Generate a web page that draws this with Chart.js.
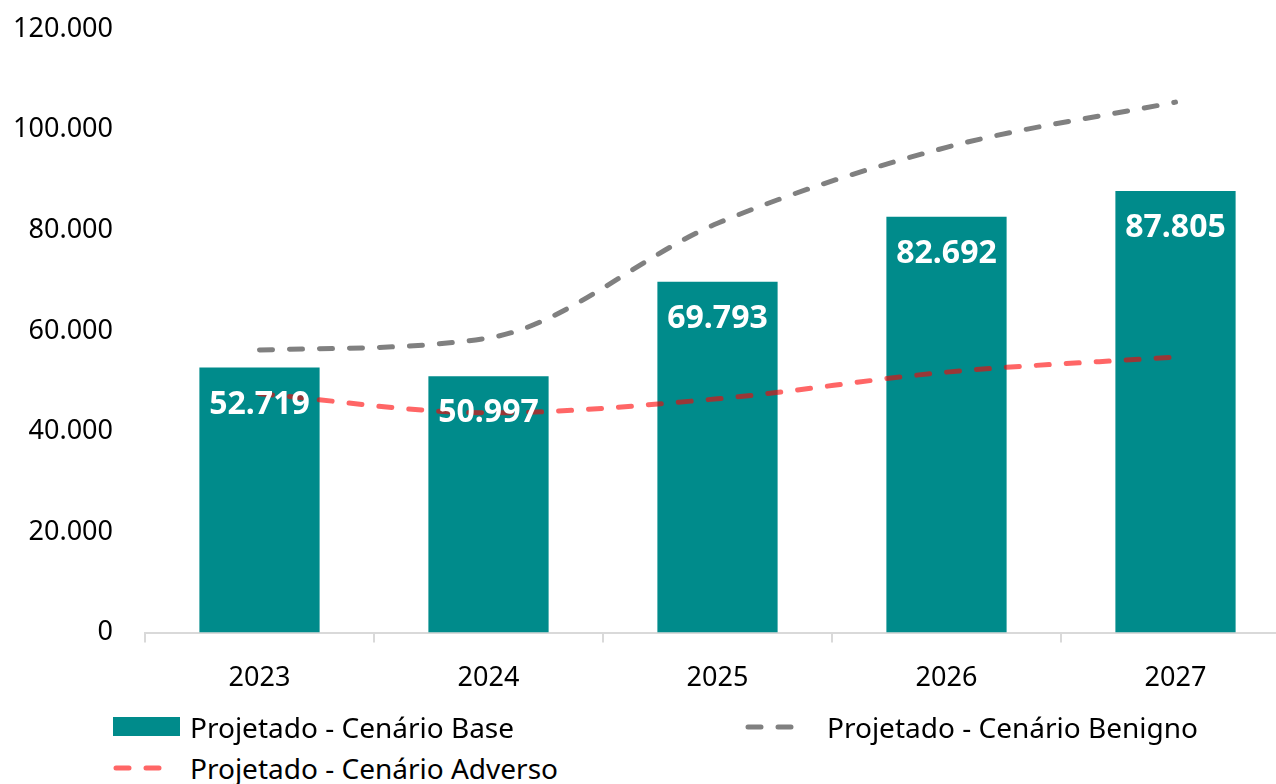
<!DOCTYPE html>
<html>
<head>
<meta charset="utf-8">
<script src="https://cdn.jsdelivr.net/npm/chart.js@4.4.0/dist/chart.umd.min.js"></script>
<style>
  html, body { margin: 0; padding: 0; background: #fff; overflow: hidden; }
  body { width: 1276px; height: 784px; position: relative; font-family: "Noto Sans", "Open Sans", sans-serif; }
  #wrap { position: absolute; left: 0; top: -19px; width: 1290px; height: 734px; }
  .leg { position: absolute; font-size: 28px; color: #000; white-space: nowrap; line-height: 30px; }
  .leg svg { position: absolute; }
</style>
</head>
<body>
<div id="wrap"><canvas id="chart"></canvas></div>
<div class="leg" style="left:113px; top:712px;">
  <svg width="68" height="30" style="left:0;top:0"><rect x="0" y="5" width="67" height="19" fill="#008B8B"/></svg>
  <span style="margin-left:77px">Projetado - Cenário Base</span>
</div>
<div class="leg" style="left:745px; top:712px;">
  <svg width="60" height="30" style="left:0;top:0"><line x1="3" y1="15" x2="50" y2="15" stroke="#808080" stroke-width="5" stroke-linecap="round" stroke-dasharray="13 17"/></svg>
  <span style="margin-left:82px">Projetado - Cenário Benigno</span>
</div>
<div class="leg" style="left:113px; top:753px;">
  <svg width="60" height="30" style="left:0;top:0"><line x1="3" y1="15" x2="50" y2="15" stroke="rgba(255,0,0,0.6)" stroke-width="5" stroke-linecap="round" stroke-dasharray="13 17"/></svg>
  <span style="margin-left:77px">Projetado - Cenário Adverso</span>
</div>
<script>
const categories = ["2023", "2024", "2025", "2026", "2027"];
const baseValues = [52719, 50997, 69793, 82692, 87805];
const benignoValues = [56200, 58600, 81400, 96500, 105500];
const adversoValues = [47500, 43700, 46500, 51800, 54800];
const yTicks = [0, 20000, 40000, 60000, 80000, 100000, 120000];

const fmt = v => v.toLocaleString("de-DE");
const FONT = "'Noto Sans', 'Open Sans', sans-serif";

// valores em branco dentro das barras
const barLabels = {
  id: "barLabels",
  afterDatasetsDraw(chart) {
    const ctx = chart.ctx;
    const meta = chart.getDatasetMeta(0);
    ctx.save();
    ctx.fillStyle = "#fff";
    ctx.font = "bold 32px " + FONT;
    ctx.textAlign = "center";
    ctx.textBaseline = "middle";
    meta.data.forEach((bar, i) => {
      ctx.fillText(fmt(baseValues[i]), bar.x, bar.y + 37);
    });
    ctx.restore();
  }
};

const data = {
  labels: categories,
  datasets: [
    {
      type: "bar",
      label: "Projetado - Cenário Base",
      data: baseValues,
      backgroundColor: "#008B8B",
      barPercentage: 0.525,
      categoryPercentage: 1,
      order: 3
    },
    {
      type: "line",
      label: "Projetado - Cenário Adverso",
      data: adversoValues,
      borderColor: "rgba(255,0,0,0.6)",
      borderWidth: 5,
      borderDash: [13, 17],
      borderCapStyle: "round",
      pointRadius: 0,
      cubicInterpolationMode: "monotone",
      order: 1
    },
    {
      type: "line",
      label: "Projetado - Cenário Benigno",
      data: benignoValues,
      borderColor: "#808080",
      borderWidth: 5,
      borderDash: [13, 17],
      borderCapStyle: "round",
      pointRadius: 0,
      cubicInterpolationMode: "monotone",
      order: 2
    }
  ]
};

const config = {
  type: "bar",
  data: data,
  plugins: [barLabels],
  options: {
    responsive: false,
    animation: false,
    layout: { padding: 0 },
    plugins: { legend: { display: false }, tooltip: { enabled: false } },
    scales: {
      x: {
        offset: true,
        grid: { display: true, offset: true, drawOnChartArea: false, color: "#d9d9d9", tickLength: 10, lineWidth: 2 },
        border: { display: true, color: "#d9d9d9", width: 2 },
        ticks: { color: "#000", font: { size: 27, family: FONT }, padding: 20 }
      },
      y: {
        min: 0,
        max: 120000,
        afterBuildTicks: s => { s.ticks = yTicks.map(v => ({ value: v })); },
        afterFit: s => { s.width = 145; },
        grid: { display: false, drawTicks: false },
        border: { display: false },
        ticks: { color: "#000", font: { size: 27, family: FONT }, padding: 32, callback: v => fmt(v) }
      }
    }
  }
};

const cv = document.getElementById("chart");
cv.width = 1290;
cv.height = 734;
new Chart(cv, config);
</script>
</body>
</html>
